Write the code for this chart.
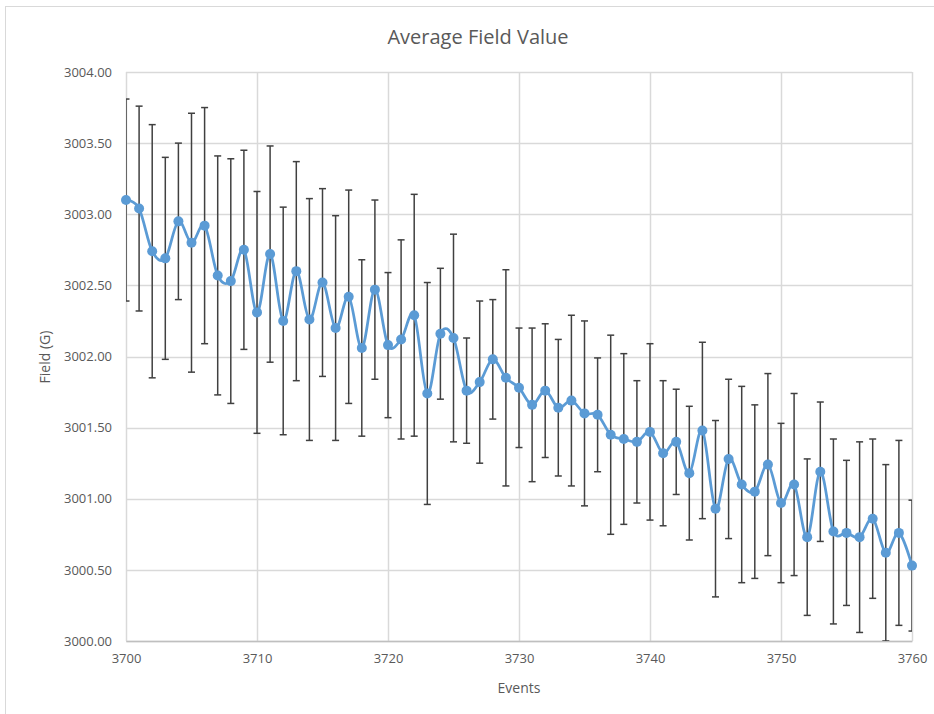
<!DOCTYPE html>
<html>
<head>
<meta charset="utf-8">
<script src="https://cdn.jsdelivr.net/npm/d3@7"></script>
<style>
  body { margin: 0; background: #fff; }
  text { font-family: "Open Sans", sans-serif; fill: #595959; }
</style>
</head>
<body>
<div id="chart"></div>
<script>
// Data
const startEvent = 3700;
const fieldValues = [
  3003.10, 3003.04, 3002.74, 3002.69, 3002.95, 3002.80, 3002.92, 3002.57, 3002.53, 3002.75,
  3002.31, 3002.72, 3002.25, 3002.60, 3002.26, 3002.52, 3002.20, 3002.42, 3002.06, 3002.47,
  3002.08, 3002.12, 3002.29, 3001.74, 3002.16, 3002.13, 3001.76, 3001.82, 3001.98, 3001.85,
  3001.78, 3001.66, 3001.76, 3001.64, 3001.69, 3001.60, 3001.59, 3001.45, 3001.42, 3001.40,
  3001.47, 3001.32, 3001.40, 3001.18, 3001.48, 3000.93, 3001.28, 3001.10, 3001.05, 3001.24,
  3000.97, 3001.10, 3000.73, 3001.19, 3000.77, 3000.76, 3000.73, 3000.86, 3000.62, 3000.76,
  3000.53
];
const fieldErrors = [
  0.71, 0.72, 0.89, 0.71, 0.55, 0.91, 0.83, 0.84, 0.86, 0.70,
  0.85, 0.76, 0.80, 0.77, 0.85, 0.66, 0.79, 0.75, 0.62, 0.63,
  0.51, 0.70, 0.85, 0.78, 0.46, 0.73, 0.37, 0.57, 0.42, 0.76,
  0.42, 0.54, 0.47, 0.48, 0.60, 0.65, 0.40, 0.70, 0.60, 0.43,
  0.62, 0.51, 0.37, 0.47, 0.62, 0.62, 0.56, 0.69, 0.61, 0.64,
  0.56, 0.64, 0.55, 0.49, 0.65, 0.51, 0.67, 0.56, 0.62, 0.65,
  0.46
];
const xTicks = [3700, 3710, 3720, 3730, 3740, 3750, 3760];
const yTicks = [3000, 3000.5, 3001, 3001.5, 3002, 3002.5, 3003, 3003.5, 3004];

const data = fieldValues.map((v, i) => ({
  event: startEvent + i,
  value: v,
  err: fieldErrors[i],
}));

const dimensions = {
  width: 934,
  height: 714,
  margin: { top: 72, right: 22, bottom: 73, left: 126 },
};
dimensions.innerWidth =
  dimensions.width - dimensions.margin.left - dimensions.margin.right;
dimensions.innerHeight =
  dimensions.height - dimensions.margin.top - dimensions.margin.bottom;

const svg = d3
  .select("#chart")
  .append("svg")
  .attr("width", dimensions.width)
  .attr("height", dimensions.height);

// chart frame
svg
  .append("rect")
  .attr("x", 5.5)
  .attr("y", 6.5)
  .attr("width", dimensions.width + 20)
  .attr("height", dimensions.height + 20)
  .attr("fill", "#fff")
  .attr("stroke", "#d9d9d9");

const graph = svg
  .append("g")
  .attr(
    "transform",
    `translate(${dimensions.margin.left}, ${dimensions.margin.top})`
  );

// scales
const xScale = d3
  .scaleLinear()
  .domain([3700, 3760])
  .range([0, dimensions.innerWidth]);

const yScale = d3
  .scaleLinear()
  .domain([3000, 3004])
  .range([dimensions.innerHeight, 0]);

// gridlines
graph
  .append("g")
  .selectAll("line")
  .data(yTicks)
  .join("line")
  .attr("x1", 0)
  .attr("x2", dimensions.innerWidth)
  .attr("y1", (d) => Math.round(yScale(d)) + 0.5)
  .attr("y2", (d) => Math.round(yScale(d)) + 0.5)
  .attr("stroke", "#d9d9d9")
  .attr("stroke-width", 1.5);

graph
  .append("g")
  .selectAll("line")
  .data(xTicks)
  .join("line")
  .attr("x1", (d) => Math.round(xScale(d)) + 0.5)
  .attr("x2", (d) => Math.round(xScale(d)) + 0.5)
  .attr("y1", 0)
  .attr("y2", dimensions.innerHeight)
  .attr("stroke", "#d9d9d9")
  .attr("stroke-width", 1.5);

// axes
const xAxis = graph
  .append("g")
  .attr("transform", `translate(0, ${dimensions.innerHeight})`)
  .call(
    d3
      .axisBottom(xScale)
      .tickValues(xTicks)
      .tickSize(0)
      .tickPadding(13)
      .tickFormat(d3.format("d"))
  );

xAxis.select(".domain").attr("stroke", "#bfbfbf").attr("stroke-width", 1.5);

const yAxis = graph
  .append("g")
  .call(
    d3
      .axisLeft(yScale)
      .tickValues(yTicks)
      .tickSize(0)
      .tickPadding(14)
      .tickFormat(d3.format(".2f"))
  );

yAxis.select(".domain").remove();

svg
  .selectAll(".tick text")
  .style("font-size", "13px")
  .style("fill", "#595959")
  .attr("font-family", null);

// clip to the plot area
svg
  .append("clipPath")
  .attr("id", "clip")
  .append("rect")
  .attr("x", 0)
  .attr("y", 0)
  .attr("width", dimensions.innerWidth)
  .attr("height", dimensions.innerHeight);

const plot = graph.append("g").attr("clip-path", "url(#clip)");

// error bars
const bars = plot.append("g").attr("stroke", "#404040").attr("stroke-width", 1.5);

bars
  .selectAll(".err")
  .data(data)
  .join("line")
  .attr("class", "err")
  .attr("x1", (d) => xScale(d.event))
  .attr("x2", (d) => xScale(d.event))
  .attr("y1", (d) => yScale(d.value + d.err))
  .attr("y2", (d) => yScale(d.value - d.err));

bars
  .selectAll(".capTop")
  .data(data)
  .join("line")
  .attr("class", "capTop")
  .attr("x1", (d) => xScale(d.event) - 3.5)
  .attr("x2", (d) => xScale(d.event) + 3.5)
  .attr("y1", (d) => yScale(d.value + d.err))
  .attr("y2", (d) => yScale(d.value + d.err));

bars
  .selectAll(".capBottom")
  .data(data)
  .join("line")
  .attr("class", "capBottom")
  .attr("x1", (d) => xScale(d.event) - 3.5)
  .attr("x2", (d) => xScale(d.event) + 3.5)
  .attr("y1", (d) => yScale(d.value - d.err))
  .attr("y2", (d) => yScale(d.value - d.err));

// smoothed line
const lineGenerator = d3
  .line()
  .x((d) => xScale(d.event))
  .y((d) => yScale(d.value))
  .curve(d3.curveCardinal.tension(0));

graph
  .append("path")
  .datum(data)
  .attr("d", lineGenerator)
  .attr("fill", "none")
  .attr("stroke", "#5b9bd5")
  .attr("stroke-width", 2.75);

// markers
graph
  .append("g")
  .selectAll("circle")
  .data(data)
  .join("circle")
  .attr("cx", (d) => xScale(d.event))
  .attr("cy", (d) => yScale(d.value))
  .attr("r", 5)
  .attr("fill", "#5b9bd5");

// chart title
svg
  .append("text")
  .attr("x", 478)
  .attr("y", 44)
  .attr("text-anchor", "middle")
  .style("font-size", "20px")
  .text("Average Field Value");

// x-axis label
svg
  .append("text")
  .attr("x", dimensions.margin.left + dimensions.innerWidth / 2)
  .attr("y", 693)
  .attr("text-anchor", "middle")
  .style("font-size", "14px")
  .text("Events");

// y-axis label
svg
  .append("text")
  .attr("transform", "rotate(-90)")
  .attr("x", -357)
  .attr("y", 50)
  .attr("text-anchor", "middle")
  .style("font-size", "14px")
  .text("Field (G)");
</script>
</body>
</html>
